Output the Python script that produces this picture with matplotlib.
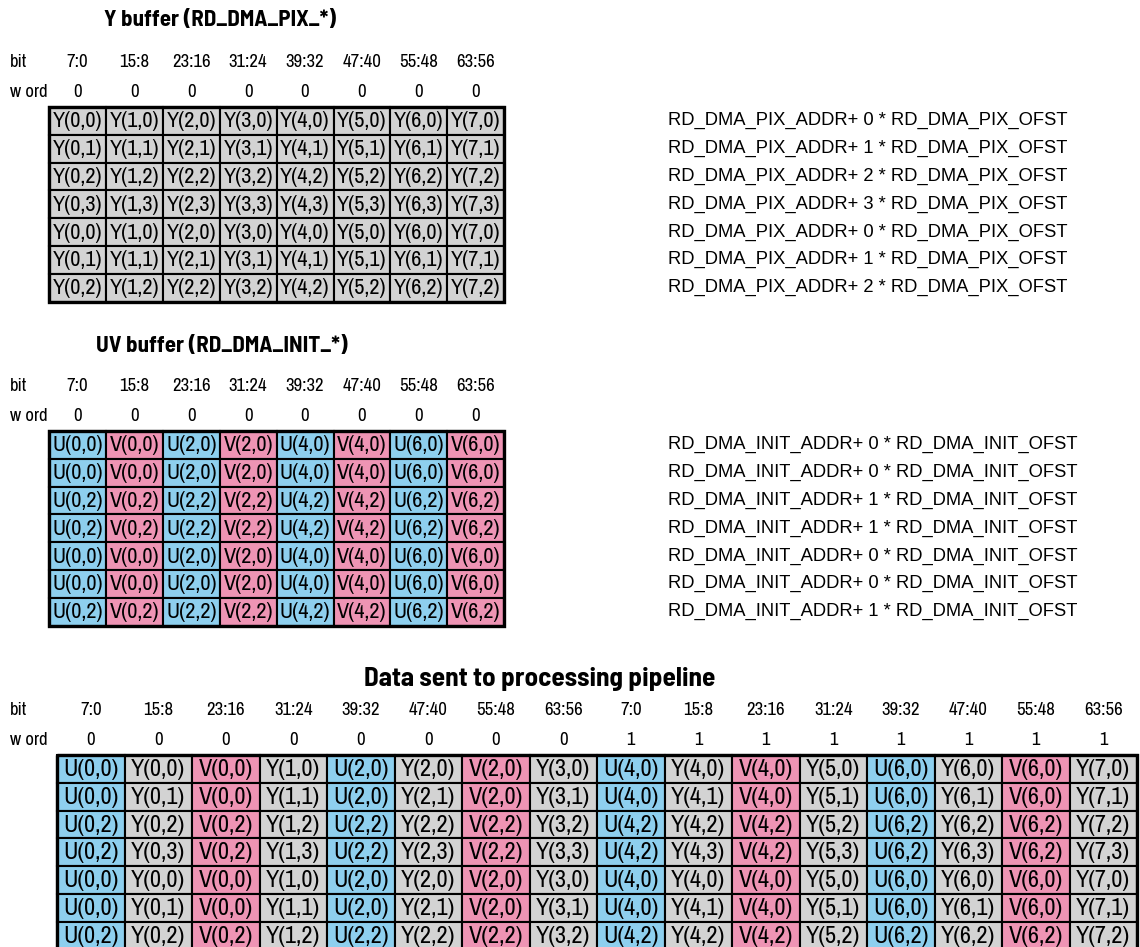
import matplotlib.pyplot as plt
from matplotlib import font_manager as fm
from matplotlib.patches import Rectangle

# bit ranges shown above every column
bits = ['7:0', '15:8', '23:16', '31:24', '39:32', '47:40', '55:48', '63:56']
words_small = ['0'] * 8
words_pipe = ['0'] * 8 + ['1'] * 8

# line index of each row in the buffers
y_rows = [0, 1, 2, 3, 0, 1, 2]
uv_rows = [0, 0, 2, 2, 0, 0, 2]
# multiplier of the address offset for each row
pix_ofst = [0, 1, 2, 3, 0, 1, 2]
init_ofst = [0, 0, 1, 1, 0, 0, 1]

y_cols = [0, 1, 2, 3, 4, 5, 6, 7]
uv_cols = [0, 2, 4, 6]

colors = {'Y': '#d3d3d3', 'U': '#8ecfee', 'V': '#ee94b4'}


def pick(cands, weight=400):
    # first installed family from the list (with that weight if possible)
    have = {(f.name, f.weight) for f in fm.fontManager.ttflist}
    for c in cands:
        if (c, weight) in have:
            return c
    return cands[-1]


narrow = pick(['Liberation Sans Narrow', 'Archivo Narrow', 'Liberation Sans'])
narrow_bold = pick(['Liberation Sans Narrow', 'Barlow Semi Condensed', 'Asap Condensed', 'Liberation Sans'], 700)
regular = 'Liberation Sans'

# build the cell labels
y_table = [['Y(%d,%d)' % (c, r) for c in y_cols] for r in y_rows]
uv_table = []
for r in uv_rows:
    row = []
    for c in uv_cols:
        row += ['U(%d,%d)' % (c, r), 'V(%d,%d)' % (c, r)]
    uv_table.append(row)
pipe_table = []
for yr, ur in zip(y_rows, uv_rows):
    row = []
    for c in uv_cols:
        row += ['U(%d,%d)' % (c, ur), 'Y(%d,%d)' % (c, yr),
                'V(%d,%d)' % (c, ur), 'Y(%d,%d)' % (c + 1, yr)]
    pipe_table.append(row)

fig = plt.figure(figsize=(11.4, 9.47), dpi=100)
ax = fig.add_axes([0, 0, 1, 1])
ax.set_xlim(0, 1140)
ax.set_ylim(947, 0)
ax.axis('off')

ROW_H = 27.8


def draw_section(title, title_xy, title_fs, table, left, top, col_w, bit_labels, word_labels, cell_fs, head_fs):
    ax.text(title_xy[0], title_xy[1], title, ha='center', va='center',
            fontsize=title_fs, fontweight='bold', family=narrow_bold)
    ax.text(10, top - 45, 'bit', ha='left', va='center', fontsize=head_fs, family=narrow)
    ax.text(10, top - 15, 'w ord', ha='left', va='center', fontsize=head_fs, family=narrow)
    for j, (b, w) in enumerate(zip(bit_labels, word_labels)):
        cx = left + (j + 0.5) * col_w
        ax.text(cx, top - 45, b, ha='center', va='center', fontsize=head_fs, family=narrow)
        ax.text(cx, top - 15, w, ha='center', va='center', fontsize=head_fs, family=narrow)
    for i, row in enumerate(table):
        for j, lab in enumerate(row):
            x0 = left + j * col_w
            y0 = top + i * ROW_H
            ax.add_patch(Rectangle((x0, y0), col_w, ROW_H, facecolor=colors[lab[0]],
                                   edgecolor='black', linewidth=1.5))
            ax.text(x0 + col_w / 2, y0 + ROW_H / 2 + 0.5, lab, ha='center', va='center',
                    fontsize=cell_fs, family=narrow)
    ncol = len(table[0])
    ax.add_patch(Rectangle((left, top), ncol * col_w, len(table) * ROW_H, fill=False,
                           edgecolor='black', linewidth=2.4))


draw_section('Y buffer (RD_DMA_PIX_*)', (220, 20), 16.5, y_table, 49, 107, 56.9,
             bits, words_small, 16, 13.5)
for i, k in enumerate(pix_ofst):
    ax.text(668, 107 + (i + 0.5) * ROW_H, 'RD_DMA_PIX_ADDR+ %d * RD_DMA_PIX_OFST' % k,
            ha='left', va='center', fontsize=13.2, family=regular)

draw_section('UV buffer (RD_DMA_INIT_*)', (222, 346), 16.5, uv_table, 49, 431, 56.9,
             bits, words_small, 16, 13.5)
for i, k in enumerate(init_ofst):
    ax.text(668, 431 + (i + 0.5) * ROW_H, 'RD_DMA_INIT_ADDR+ %d * RD_DMA_INIT_OFST' % k,
            ha='left', va='center', fontsize=13.2, family=regular)

draw_section('Data sent to processing pipeline', (540, 679), 19.5, pipe_table, 57, 755, 67.5,
             bits + bits, words_pipe, 17.5, 13.5)

fig.savefig('out.png', dpi=100)
